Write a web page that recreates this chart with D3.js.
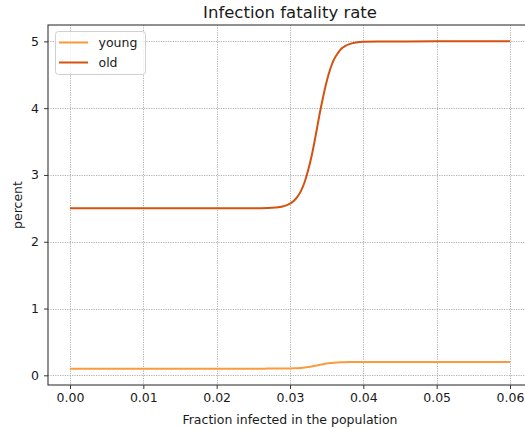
<!DOCTYPE html>
<html>
<head>
<meta charset="utf-8">
<script src="https://cdn.jsdelivr.net/npm/d3@7"></script>
<style>
body{margin:0;background:#fff;}
text{font-family:"DejaVu Sans",sans-serif;fill:#1a1a1a;}
</style>
</head>
<body>
<svg id="chart" width="525" height="429"></svg>
<script>
const fraction = [0, 0.01, 0.02, 0.026, 0.027, 0.028, 0.029, 0.0295, 0.030, 0.0305, 0.031, 0.0315, 0.032, 0.0325, 0.033, 0.0335, 0.034, 0.0345, 0.035, 0.0355, 0.036, 0.0365, 0.037, 0.0375, 0.038, 0.039, 0.040, 0.042, 0.050, 0.060];
const oldRate = [2.5, 2.5, 2.5, 2.502, 2.504, 2.511, 2.527, 2.544, 2.569, 2.61, 2.671, 2.762, 2.895, 3.08, 3.31, 3.59, 3.89, 4.16, 4.40, 4.59, 4.73, 4.82, 4.89, 4.93, 4.955, 4.982, 4.993, 4.999, 5.0, 5.0];
const youngRate = [0.1, 0.1, 0.1, 0.1001, 0.1002, 0.1004, 0.1011, 0.1018, 0.1028, 0.1044, 0.1069, 0.1105, 0.1158, 0.1232, 0.1325, 0.1437, 0.1555, 0.1666, 0.1761, 0.1836, 0.1891, 0.193, 0.1955, 0.1971, 0.1982, 0.1993, 0.1997, 0.2, 0.2, 0.2];
const seriesNames = ["young", "old"];
const seriesColors = ["#fd9a3d", "#d4520f"];
const xTicks = [0, 0.01, 0.02, 0.03, 0.04, 0.05, 0.06];
const yTicks = [0, 1, 2, 3, 4, 5];
const titleText = "Infection fatality rate";
const xLabel = "Fraction infected in the population";
const yLabel = "percent";

const svg = d3.select("#chart");
const L = 48, R = 532, T = 25, B = 385;
const x = d3.scaleLinear().domain([-0.003, 0.063]).range([L, R]);
const y = d3.scaleLinear().domain([-0.145, 5.245]).range([B, T]);

svg.append("rect").attr("width",525).attr("height",429).attr("fill","#fff");

// grid
const grid = svg.append("g");
xTicks.forEach(t => grid.append("line").attr("x1",Math.round(x(t))+0.5).attr("x2",Math.round(x(t))+0.5).attr("y1",T).attr("y2",B)
  .attr("stroke","#a8a8a8").attr("stroke-width",0.9).attr("stroke-dasharray","1.2,1.2"));
yTicks.forEach(t => grid.append("line").attr("x1",L).attr("x2",R).attr("y1",Math.round(y(t))+0.5).attr("y2",Math.round(y(t))+0.5)
  .attr("stroke","#a8a8a8").attr("stroke-width",0.9).attr("stroke-dasharray","1.2,1.2"));

// lines
const data = [youngRate, oldRate];
const line = d3.line().x((d,i)=>x(fraction[i])).y(d=>y(d)).curve(d3.curveMonotoneX);
data.forEach((vals,k)=>{
  svg.append("path").datum(vals).attr("d",line).attr("fill","none")
    .attr("stroke",seriesColors[k]).attr("stroke-width",2);
});

// axes
const xAxis = d3.axisBottom(x).tickValues(xTicks).tickFormat(d3.format(".2f")).tickSize(4).tickPadding(4);
const yAxis = d3.axisLeft(y).tickValues(yTicks).tickFormat(d3.format("d")).tickSize(4).tickPadding(5);
const gx = svg.append("g").attr("transform",`translate(0,${B})`).call(xAxis);
const gy = svg.append("g").attr("transform",`translate(${L},0)`).call(yAxis);
[gx,gy].forEach(g=>{
  g.select(".domain").remove();
  g.selectAll(".tick line").attr("stroke","#222").attr("stroke-width",0.9);
  g.selectAll(".tick text").attr("font-size","12.5px").attr("fill","#1a1a1a").attr("font-family","DejaVu Sans");
});

// spines
svg.append("rect").attr("x",L).attr("y",T).attr("width",R-L).attr("height",B-T)
  .attr("fill","none").attr("stroke","#222").attr("stroke-width",1);

// title and labels
svg.append("text").attr("x",(L+R)/2).attr("y",18).attr("text-anchor","middle")
  .attr("font-size","16.5px").text(titleText);
svg.append("text").attr("x",(L+R)/2).attr("y",424).attr("text-anchor","middle")
  .attr("font-size","12.5px").text(xLabel);
svg.append("text").attr("transform",`translate(22,${(T+B)/2}) rotate(-90)`).attr("text-anchor","middle")
  .attr("font-size","12.5px").text(yLabel);

// legend
const lg = svg.append("g");
lg.append("rect").attr("x",55.5).attr("y",31.5).attr("width",90).attr("height",43).attr("rx",3)
  .attr("fill","#fff").attr("fill-opacity",0.8).attr("stroke","#d0d0d0").attr("stroke-width",1);
seriesNames.forEach((n,i)=>{
  const yy = 42.5 + i*20;
  lg.append("line").attr("x1",59).attr("x2",88).attr("y1",yy).attr("y2",yy)
    .attr("stroke",seriesColors[i]).attr("stroke-width",2);
  lg.append("text").attr("x",98.5).attr("y",yy+4.5).attr("font-size","12.5px").text(n);
});
</script>
</body>
</html>
